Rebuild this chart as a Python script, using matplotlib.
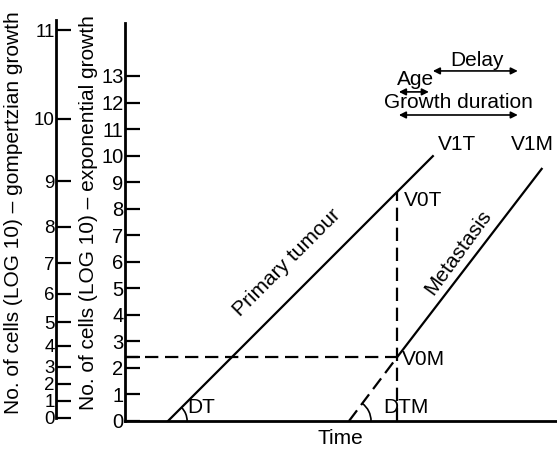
import numpy as np
import matplotlib.pyplot as plt
from matplotlib.patches import Arc

plt.rcParams['font.family'] = ['Liberation Sans', 'DejaVu Sans']

# exponential axis ticks (log10 cells)
exp_ticks = list(range(0, 14))
# gompertzian axis: labels and where they sit on the exponential scale
gomp_labels = [0, 1, 2, 3, 4, 5, 6, 7, 8, 9, 10, 11]
gomp_pos = [0.12, 0.77, 1.4, 2.05, 2.83, 3.73, 4.79, 5.95, 7.31, 9.04, 11.38, 14.73]

# growth lines (time, log10 cells)
primary_t = [1.62, 11.6]
primary_v = [0.0, 9.98]
meta_dash_t = [8.44, 10.25]
meta_dash_v = [0.0, 2.4]
meta_t = [10.25, 15.7]
meta_v = [2.4, 9.5]
t_detect = 10.25          # vertical dashed line
v0t = 8.63
v0m = 2.4

W, H = 557, 449
u = 26.54                 # pixels per unit
fig = plt.figure(figsize=(W / 100, H / 100), dpi=100)
x0, y0 = 125, 421
ax = fig.add_axes([x0 / W, (H - y0) / H, (W - x0) / W, y0 / H])
ax.set_xlim(0, (W - x0) / u)
ax.set_ylim(0, y0 / u)
for s in ['top', 'right']:
    ax.spines[s].set_visible(False)
ax.spines['left'].set_bounds(0, 15.0)
ax.spines['left'].set_linewidth(2)
ax.spines['bottom'].set_linewidth(2)
ax.set_xticks([])
ax.set_yticks(exp_ticks)
ax.set_yticks([v0m], minor=True)
ax.tick_params(axis='y', which='both', direction='in', length=11, width=1.6,
               labelsize=14.5, pad=1)

# second (gompertzian) axis
gx = 56
ax2 = fig.add_axes([gx / W, (H - y0) / H, 0.001, y0 / H])
ax2.set_ylim(0, y0 / u)
for s in ['top', 'right', 'bottom']:
    ax2.spines[s].set_visible(False)
ax2.spines['left'].set_bounds(gomp_pos[0], 15.1)
ax2.spines['left'].set_linewidth(2)
ax2.set_xticks([])
ax2.set_yticks(gomp_pos)
ax2.set_yticklabels([str(g) for g in gomp_labels])
ax2.tick_params(axis='y', direction='in', length=11, width=1.6, labelsize=13.5, pad=1)
ax2.patch.set_visible(False)

lw = 1.6
dash = (0, (6, 3))
ax.plot(primary_t, primary_v, color='k', lw=lw)
ax.plot(meta_t, meta_v, color='k', lw=lw)
ax.plot(meta_dash_t, meta_dash_v, color='k', lw=lw, linestyle=dash)
ax.plot([t_detect, t_detect], [0, v0t], color='k', lw=lw, linestyle=dash)
ax.plot([0, t_detect], [v0m, v0m], color='k', lw=lw, linestyle=dash)

ax.add_patch(Arc((primary_t[0], 0), 1.44, 1.44, theta1=0, theta2=45, color='k', lw=1.2))
ax.add_patch(Arc((meta_dash_t[0], 0), 1.66, 1.66, theta1=0, theta2=53, color='k', lw=1.2))

fs = 15
ax.text(2.35, 0.5, 'DT', fontsize=fs, va='center')
ax.text(9.72, 0.5, 'DTM', fontsize=fs, va='center')
ax.text(6.1, 5.95, 'Primary tumour', fontsize=fs, rotation=45,
        rotation_mode='anchor', ha='center', va='center')
ax.text(12.55, 6.35, 'Metastasis', fontsize=fs, rotation=54,
        rotation_mode='anchor', ha='center', va='center')
ax.text(11.8, 10.4, 'V1T', fontsize=fs, va='center')
ax.text(10.5, 8.3, 'V0T', fontsize=fs, va='center')
ax.text(10.45, 2.3, 'V0M', fontsize=fs, va='center')
ax.text(14.55, 10.4, 'V1M', fontsize=fs, va='center')

arrow = dict(arrowstyle='<|-|>', color='k', lw=1.2, mutation_scale=10,
             shrinkA=0, shrinkB=0)
ax.annotate('', xy=(14.8, 13.19), xytext=(11.6, 13.19), arrowprops=arrow)
ax.annotate('', xy=(11.45, 12.4), xytext=(10.32, 12.4), arrowprops=arrow)
ax.annotate('', xy=(14.8, 11.53), xytext=(10.32, 11.53), arrowprops=arrow)
ax.text(13.26, 13.6, 'Delay', fontsize=fs, ha='center', va='center')
ax.text(10.93, 12.88, 'Age', fontsize=fs, ha='center', va='center')
ax.text(12.55, 12.0, 'Growth duration', fontsize=fs, ha='center', va='center')

fig.text(340 / W, 1 - 438 / H, 'Time', fontsize=fs, ha='center', va='center')
fig.text(14 / W, 1 - 213 / H, 'No. of cells (LOG 10) – gompertzian growth',
         fontsize=15, rotation=90, ha='center', va='center')
fig.text(89 / W, 1 - 213 / H, 'No. of cells (LOG 10) – exponential growth',
         fontsize=15, rotation=90, ha='center', va='center')

fig.savefig('out.png', dpi=100)
